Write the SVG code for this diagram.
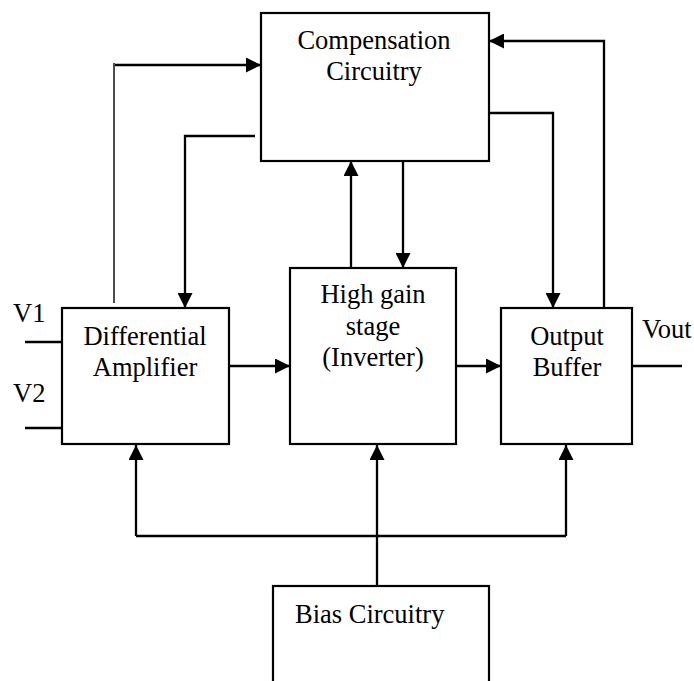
<svg xmlns="http://www.w3.org/2000/svg" width="694" height="681" viewBox="0 0 694 681">
<style>
.box{fill:#fff;stroke:#000;stroke-width:2.2}
.ln{fill:none;stroke:#000;stroke-width:2.3}
.thin{fill:none;stroke:#000;stroke-width:1.4}
text{font-family:"Liberation Serif","Times New Roman",serif;font-size:26.5px;fill:#000}
.c{text-anchor:middle}
</style>
<defs>
<marker id="ah" markerUnits="userSpaceOnUse" markerWidth="16" markerHeight="15" refX="15" refY="7.5" orient="auto">
<path d="M0,0 L15,7.5 L0,15 z" fill="#000"/>
</marker>
</defs>
<rect width="694" height="681" fill="#fff"/>
<g id="connectors">
<path class="thin" d="M114,303 V63"/>
<path class="ln" d="M115,65 H261" marker-end="url(#ah)"/>
<path class="ln" d="M255,136 H185 V308" marker-end="url(#ah)"/>
<path class="ln" d="M229,366 H290" marker-end="url(#ah)"/>
<path class="ln" d="M351,268 V161" marker-end="url(#ah)"/>
<path class="ln" d="M403,161 V268" marker-end="url(#ah)"/>
<path class="ln" d="M456,366 H501" marker-end="url(#ah)"/>
<path class="ln" d="M489,113 H553 V308" marker-end="url(#ah)"/>
<path class="ln" d="M604,308 V41 H489" marker-end="url(#ah)"/>
<path class="ln" d="M632,366 H682"/>
<path class="ln" d="M25,342 H62"/>
<path class="ln" d="M25,428 H62"/>
<path class="ln" d="M377,586 V445" marker-end="url(#ah)"/>
<path class="ln" d="M136,536 H566"/>
<path class="ln" d="M136,536 V445" marker-end="url(#ah)"/>
<path class="ln" d="M566,536 V445" marker-end="url(#ah)"/>
</g>
<g id="compensation">
<rect class="box" x="261" y="13" width="228" height="148"/>
<text class="c" x="374" y="49">Compensation</text>
<text class="c" x="374" y="80">Circuitry</text>
</g>
<g id="diffamp">
<rect class="box" x="62" y="308" width="167" height="136"/>
<text class="c" x="145" y="345">Differential</text>
<text class="c" x="145" y="376">Amplifier</text>
</g>
<g id="highgain">
<rect class="box" x="290" y="268" width="166" height="176"/>
<text class="c" x="373" y="303">High gain</text>
<text class="c" x="373" y="335">stage</text>
<text class="c" x="373" y="366">(Inverter)</text>
</g>
<g id="output">
<rect class="box" x="501" y="308" width="131" height="136"/>
<text class="c" x="567" y="345">Output</text>
<text class="c" x="567" y="376">Buffer</text>
</g>
<g id="bias">
<rect class="box" x="273" y="586" width="216" height="110"/>
<text x="295" y="623">Bias Circuitry</text>
</g>
<g id="labels">
<text x="13" y="322">V1</text>
<text x="13" y="402">V2</text>
<text x="642" y="338">Vout</text>
</g>
</svg>
